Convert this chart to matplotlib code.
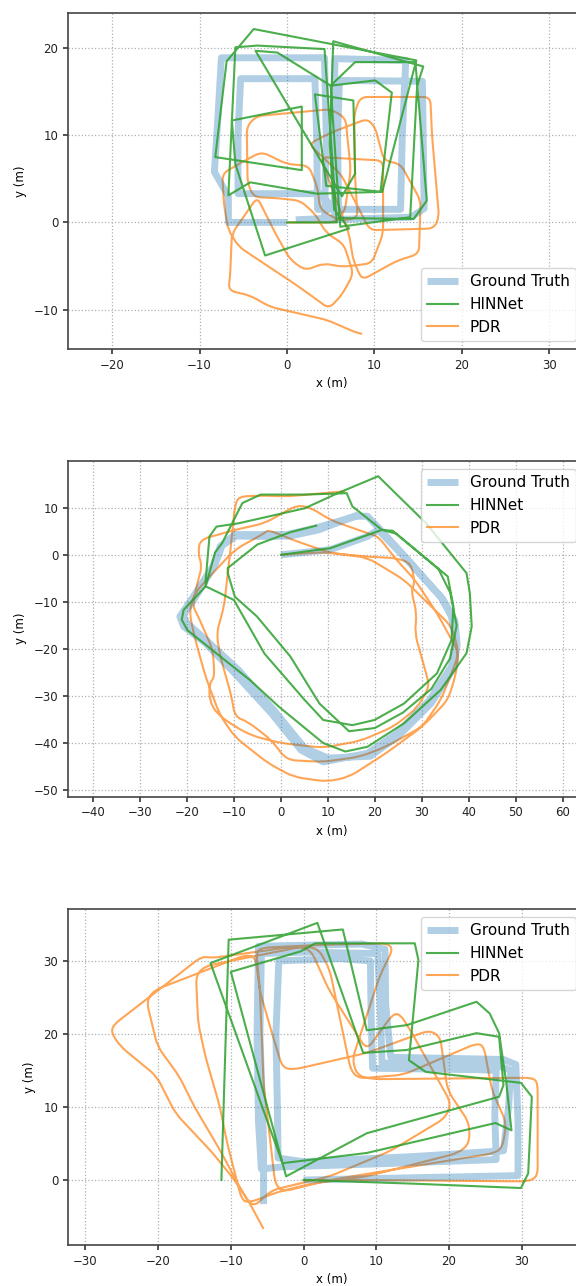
import numpy as np
import matplotlib
matplotlib.use("Agg")
from matplotlib import pyplot as plt
from matplotlib.path import Path
from matplotlib.patches import PathPatch

# ---- panel 1 ----
gt1 = [(0, 0), (-6.7, 0), (-6.7, 3.0), (-8.3, 5.8), (-7.9, 12), (-7.5, 18.9), (4.3, 18.9), (4.5, 10),
       (4.3, 0.3), (14.2, 0.6), (15.7, 1.6), (15.6, 9), (15.5, 16.2), (6.0, 16.3), (5.8, 10), (5.9, 1.0),
       (3.8, 3.3), (-5.6, 3.3), (-5.6, 10), (-5.3, 16.5), (3.2, 16.5), (3.4, 10), (3.5, 1.5), (6.2, 1.5),
       (13.0, 1.5), (13.2, 10), (13.6, 18.6), (5.5, 18.8), (5.3, 10), (5.5, 0.5), (1.0, 0.3)]
hin1 = [(0, 0), (5.7, 0), (4.3, 19.9), (-3.4, 20.3), (-5.9, 20.1), (-6.4, 9.5), (-6.7, 3.1),
        (-4.2, 4.6), (3.4, 3.3), (10.7, 3.5), (12.0, 14.9), (10.1, 16.3), (5.0, 15.7), (6.1, -0.5),
        (14.1, 0.6), (14.9, 15.7), (15.6, 17.9), (5.3, 20.8), (4.9, 9.0), (5.4, 1.5),
        (7.1, -0.7), (-2.5, -3.8), (-5.9, 6.7), (-6.3, 11.7), (1.7, 13.3), (1.7, 6.0), (-8.2, 7.5),
        (-6.9, 18.5), (-3.8, 22.2), (14.8, 18.6), (10.9, 3.5), (4.5, 4.2), (3.2, 14.7), (7.6, 14.0),
        (7.8, 5.6), (6.3, 3.0), (-3.6, 19.7), (-1.1, 19.5), (5.0, 15.7), (7.8, 18.4), (14.7, 18.4),
        (16.0, 2.5), (14.5, 0.4), (6.0, 0.5)]
pdr1 = [(0, 0), (5.5, 0), (6.6, 1.2), (7.3, 6), (6.7, 12), (5.0, 13.0), (-3.5, 12.2), (-4.6, 11),
        (-4.5, 4.5), (-3.8, 2.9), (-1.3, 2.8), (1.5, 2.5), (3.2, 1.0), (4.5, -1.2), (6.5, -2.5),
        (7.6, -5.9), (6.3, -8.3), (4.8, -9.9), (3.2, -8.7), (0.8, -7.0), (-5.5, -2.8), (-6.7, -0.9),
        (-7.2, 2), (-7.4, 5.6), (-5.0, 7.0), (-2.9, 8.1), (0, 6.7), (2.5, 6.5), (3.5, 4.0), (3.8, 1.5),
        (6.0, 0.2), (8.1, 0.5), (7.8, 5), (7.7, 12.5), (8.4, 14.4), (16.4, 14.4), (16.6, 10),
        (17.4, 0.6), (16.8, -0.7), (9.5, -0.9), (8.0, 2), (6.2, 5.5), (2.5, 9), (5, 10.3), (9.2, 11.9),
        (10.1, 10.9), (11.1, 7.1), (13, 6.7), (15.3, 2.5), (15.1, -3.6), (12.6, -4.4), (8.6, -6.6),
        (7.6, -4.4), (7.1, -1.3), (5.5, 3), (3.8, 7.5), (11, 7.1), (11, -1.3), (9.7, -4.7), (6.3, -5.1),
        (4.2, -4.7), (2.1, -5.5), (0.4, -4.3), (-1.3, -1.3), (-3.4, 2.9), (-6.3, -1.3), (-6.5, -6.1),
        (-6.7, -7.8), (-4.2, -8.4), (-1.9, -9.7), (4.6, -11.2), (7.8, -12.6), (8.6, -12.8)]

# ---- panel 2 ----
gt2 = [(0, 0), (10.5, 1.1), (18.4, 3.9), (20.7, 5.3), (26.2, -0.4), (34, -8.9), (36.3, -13.1),
       (37.1, -18.1), (36.3, -23.7), (31.6, -30.9), (24.6, -38), (18.4, -42.2), (9, -44), (4.3, -41.5),
       (-2, -33.7), (-9.8, -25.2), (-16, -18.8), (-20.7, -15.2), (-21.5, -13.1), (-19.1, -9.6),
       (-14.5, -2.5), (-12.9, 1.8), (-9.8, 4.3), (-5.1, 4.3), (1.2, 4.3), (7.4, 5.7), (16, 8.2),
       (18.4, 8.2), (21, 5.5), (27, -1), (34.5, -9.5), (37, -14), (37.5, -19), (36.8, -24), (32, -31.5),
       (25, -38.5), (19, -42.8), (10, -43.2), (5, -41), (-1.5, -33), (-9, -24.5), (-15.5, -18.5),
       (-20, -14.5), (-20.8, -12.8), (-18.5, -9.5), (-14, -2), (-12.5, 2), (-9.5, 4), (-3, 3.9),
       (2, 4), (8, 5.3), (16.5, 8.5)]
hin2 = [(0, 0), (10.5, 1.4), (21.5, 5.3), (23.8, 5.1), (35.5, -4.6), (36.7, -11), (36.3, -18.1),
        (33.2, -25.2), (26.2, -31.6), (19.9, -35.1), (15.2, -36.2), (9, -35.1), (5.1, -30.9),
        (-3.5, -21), (-10, -9.6), (-16, -6.7), (-16, -5.3), (-15.2, 3.9), (-13.7, 6), (-9, 6.7),
        (5.1, 9.9), (12.1, 13.1), (20.7, 16.7), (30.9, 6.7), (39.5, -3.9), (40.2, -8.2), (40.6, -15.2),
        (39.5, -20.9), (34, -28.7), (26.2, -35.8), (18.4, -40.8), (13.7, -41.8), (9, -40),
        (-0.4, -32.3), (-6.6, -26.6), (-12.9, -21.6), (-19.9, -16), (-21.1, -13.8), (-20.7, -11.7),
        (-16, -6.7), (-14, 0.5), (-12.5, 2.5), (-8.2, 11), (-4.3, 12.8), (5.1, 12.8), (14, 13.1),
        (15.2, 10.3), (21.5, 5.3), (24.5, 4.5), (33.5, -3), (36, -8), (37.4, -15), (36, -22),
        (32, -28.5), (26, -33.5), (20, -36.8), (14.5, -37.5), (8.2, -31.6), (2, -21.6), (-5.1, -13.1),
        (-9.8, -8.9), (-11.3, -3.9), (-11.3, -2.8), (-5, 2.2), (2, 4.8), (7.5, 6.2)]
pdr2 = [(0, 0), (8, 0.5), (10.5, 0.4), (18.4, -0.4), (24.6, -0.7), (27.7, -1.8), (28.5, -6),
        (27.7, -7.5), (28.9, -12.4), (28.5, -16.7), (30.9, -25.2), (31.6, -28), (29, -32.5),
        (24, -36.5), (17, -39.5), (9, -41), (0, -40), (-6, -38.5), (-9.8, -36.5), (-13.7, -33.7),
        (-15.2, -30.9), (-15.2, -27.3), (-14.1, -25.9), (-14.5, -20.2), (-16, -16.7), (-17.6, -13.1),
        (-18.7, -11), (-18.4, -8.9), (-17.6, -5.3), (-16.8, -2.5), (-17.6, 0.4), (-17.2, 3.2),
        (-9.8, 5.3), (-3.5, 6.7), (3.5, 10.6), (6.6, 9.9), (10.5, 7.4), (18.4, 4.6), (20.7, 3.9),
        (24.6, -1.1), (28.5, -5.3), (33.2, -12.4), (37.9, -20.9), (37.1, -25.9), (35.5, -30.9),
        (30.1, -36.5), (22.3, -42.2), (14.5, -47.2), (9.8, -48.2), (2.7, -47.2), (-2.7, -44.3),
        (-9.8, -38.7), (-13, -34), (-16, -26), (-18.5, -17), (-19.5, -12), (-18.4, -8.2),
        (-14.5, -3.9), (-9.8, 1.1), (-3.5, 4.6), (-2.7, 5.3), (3, 3), (10.5, 0.4), (18.4, -0.6),
        (26.2, -5.3), (36.3, -15.2), (37.9, -20.9), (36.3, -25.2), (34, -30.9), (30.1, -36.5),
        (22.3, -40.8), (16.8, -42.9), (9, -44), (1.2, -43.6), (-2, -39.4), (-7, -35.5), (-9.8, -34.4),
        (-10.5, -30.1), (-12.9, -21.6), (-13.7, -16.7), (-12.1, -11), (-11.3, -3.9), (-10.5, 3.2),
        (-9.8, 10.3), (-9, 12.4), (-3.5, 12.6), (1.2, 12.4), (9, 13.1), (13.7, 13.5)]

# ---- panel 3 ----
gt3 = [(0, 0), (15, 0.3), (29.5, 0.6), (29.5, 8), (29.2, 15.8), (27.5, 16.5), (12, 16.8), (11.3, 24),
       (11.2, 31.6), (8, 32.3), (-6.2, 32), (-6.4, 20), (-6.2, 8), (-5.8, 1.5), (-3, 1.8), (10, 2.2),
       (26.5, 2.8), (26.3, 9), (26.5, 15), (24, 15.1), (9.5, 15.3), (9.3, 22), (9.2, 30), (5, 30.3),
       (-3.4, 30), (-3.8, 20), (-3.6, 10), (-3.5, 3), (0, 2.5), (15, 3.2), (27.5, 4), (28.2, 10),
       (28.5, 15), (26, 16), (10.8, 16), (10.5, 25), (10.2, 31), (0, 31.2), (-5.8, 31), (-6, 20),
       (-5.5, 5), (-5.5, -3.3)]
hin3 = [(0, 0), (15, -0.5), (29.9, -1.1), (30.9, 0.9), (31.4, 11.4), (29.9, 13.3), (16.8, 14.8),
        (14.5, 16.4), (15.8, 30.1), (15.3, 32.4), (1.6, 32.4), (-0.4, 31.3), (-10, 28.5), (-2.4, 0.5),
        (8.7, 6.4), (26.9, 11.4), (27.5, 13), (26.9, 19.6), (23.8, 20.1), (14.2, 17.8), (8.2, 17.4),
        (1.9, 35.2), (-12.8, 29.7), (-2.9, 2.3), (8.7, 3.7), (26.4, 7.8), (28.6, 6.8), (27.9, 13.2),
        (26.9, 20.1), (25.6, 22.8), (23.8, 24.4), (14.2, 21.2), (8.7, 20.5), (5.4, 34.3),
        (-10.3, 32.9), (-11.3, 0)]
pdr3 = [(0, 0), (8.7, 0), (30.9, -0.2), (32.2, 0.5), (32.2, 13.3), (31.5, 14), (9.5, 13.8),
        (7.4, 14.3), (6.7, 16.5), (10.5, 28), (12.3, 31.6), (11.5, 32.4), (2.6, 32.2), (-5.5, 31.8),
        (-6.5, 31.3), (-6, 26), (-5.5, 13.2), (-3.9, -0.5), (-2.9, -1.6), (3.6, 0), (26.4, 3.7),
        (27.4, 4.6), (27.9, 7.8), (25.9, 12.3), (24.8, 18.3), (23.8, 18.7), (13.7, 14.4), (7.6, 13.9),
        (6.5, 15), (3.6, 28.8), (2.1, 31.6), (0.1, 32.0), (-13.5, 29.3), (-14.8, 28), (-14.5, 21.5),
        (-13.5, 16.9), (-11.5, 10), (-10.5, 5), (-8.5, -2.7), (-7.5, -3.1), (-3.4, -1.6), (1.1, -0.5),
        (8.7, 0.5), (21.3, 3.7), (22.8, 5), (22.8, 7.8), (19.8, 12.3), (18.8, 19.6), (17.3, 20.5),
        (8.7, 17.4), (-1.4, 15.1), (-2.9, 15.4), (-4.4, 20.3), (-6, 25.8), (-6.6, 30.5), (-8, 30.8),
        (-20.5, 26), (-21.6, 24.5), (-20.1, 18.3), (-17.1, 14.2), (-15, 10), (-11.5, 4.1),
        (-8.5, -1.5), (-7, -3.8), (-4.4, -1.4), (3.6, 0.5), (12, 4), (19.5, 8.5), (20.3, 10.5),
        (14.7, 20.5), (13.2, 22.8), (12.2, 22.6), (8.7, 17.8), (3.5, 26), (1.0, 31.5), (-1, 32),
        (-12.5, 30.4), (-14, 30.6), (-26.2, 21.2), (-26.4, 20.1), (-25.2, 18.3), (-20.2, 14.2),
        (-17.6, 9.1), (-12.5, 3.7), (-9.5, 0), (-7.5, -3), (-5.5, -6.7)]

x_ticks1 = [-20, -10, 0, 10, 20, 30]
y_ticks1 = [-10, 0, 10, 20]
x_ticks2 = [-40, -30, -20, -10, 0, 10, 20, 30, 40, 50, 60]
y_ticks2 = [-50, -40, -30, -20, -10, 0, 10]
x_ticks3 = [-30, -20, -10, 0, 10, 20, 30]
y_ticks3 = [0, 10, 20, 30]

W, H = 576, 1286
AX_W = 620  # px, axes run past the right edge of the picture


def rounded(pts, r):
    # polyline with its corners cut by quadratic curves (PDR tracks look smooth)
    pts = np.asarray(pts, float)
    verts = [pts[0]]
    codes = [Path.MOVETO]
    for i in range(1, len(pts) - 1):
        a, p, b = pts[i - 1], pts[i], pts[i + 1]
        da = np.hypot(*(a - p))
        db = np.hypot(*(b - p))
        p1 = p + (a - p) / da * min(r, 0.45 * da)
        p2 = p + (b - p) / db * min(r, 0.45 * db)
        verts += [p1, p, p2]
        codes += [Path.LINETO, Path.CURVE3, Path.CURVE3]
    verts.append(pts[-1])
    codes.append(Path.LINETO)
    return Path(verts, codes)


# (data, xlim, ylim, ticks, axes bottom px, legend loc, legend anchor px, corner radius)
panels = [
    (gt1, hin1, pdr1, (-25.05, -25.05 + AX_W / 8.74), (-14.53, 24.04), x_ticks1, y_ticks1, 349,
     'lower left', (421, 340.7), 0.8),
    (gt2, hin2, pdr2, (-45.3, -45.3 + AX_W / 4.70), (-51.4, 20.0), x_ticks2, y_ticks2, 796.7,
     'upper left', (421, 469.3), 2.0),
    (gt3, hin3, pdr3, (-32.4, -32.4 + AX_W / 7.27), (-8.9, 37.1), x_ticks3, y_ticks3, 1245,
     'upper left', (421, 917.3), 1.2),
]

fig = plt.figure(figsize=(W / 100, H / 100), dpi=100)

for gt, hin, pdr, xl, yl, xt, yt, bot, loc, anc, rad in panels:
    ax = fig.add_axes([68 / W, 1 - bot / H, AX_W / W, 336 / H])
    gt = np.array(gt)
    hin = np.array(hin)
    ax.plot(gt[:, 0], gt[:, 1], color='tab:blue', alpha=0.35, lw=5, label='Ground Truth',
            solid_joinstyle='round', solid_capstyle='butt')
    ax.plot(hin[:, 0], hin[:, 1], color='tab:green', alpha=0.85, lw=1.5, label='HINNet')
    ax.add_patch(PathPatch(rounded(pdr, rad), fill=False, edgecolor='tab:orange', alpha=0.7, lw=1.5))
    ax.plot([], [], color='tab:orange', alpha=0.7, lw=1.5, label='PDR')
    ax.set_xlim(*xl)
    ax.set_ylim(*yl)
    ax.set_xticks(xt)
    ax.set_yticks(yt)
    ax.grid(True, linestyle=':', color='#b0b0b0', lw=0.9)
    ax.set_axisbelow(True)
    ax.tick_params(labelsize=8.5, colors='#222222', width=1.1, length=3.5)
    for s in ax.spines.values():
        s.set_color('#444444')
        s.set_linewidth(1.2)
    ax.set_xlabel('x (m)', fontsize=8.5)
    ax.set_ylabel('y (m)', fontsize=8.5, labelpad=5)
    ax.xaxis.set_label_coords((332 - 68) / AX_W, -0.083)
    ax.legend(loc=loc, bbox_to_anchor=(anc[0] / W, 1 - anc[1] / H), bbox_transform=fig.transFigure,
              borderaxespad=0, fontsize=11, frameon=True)

fig.savefig('out.png', dpi=100)
